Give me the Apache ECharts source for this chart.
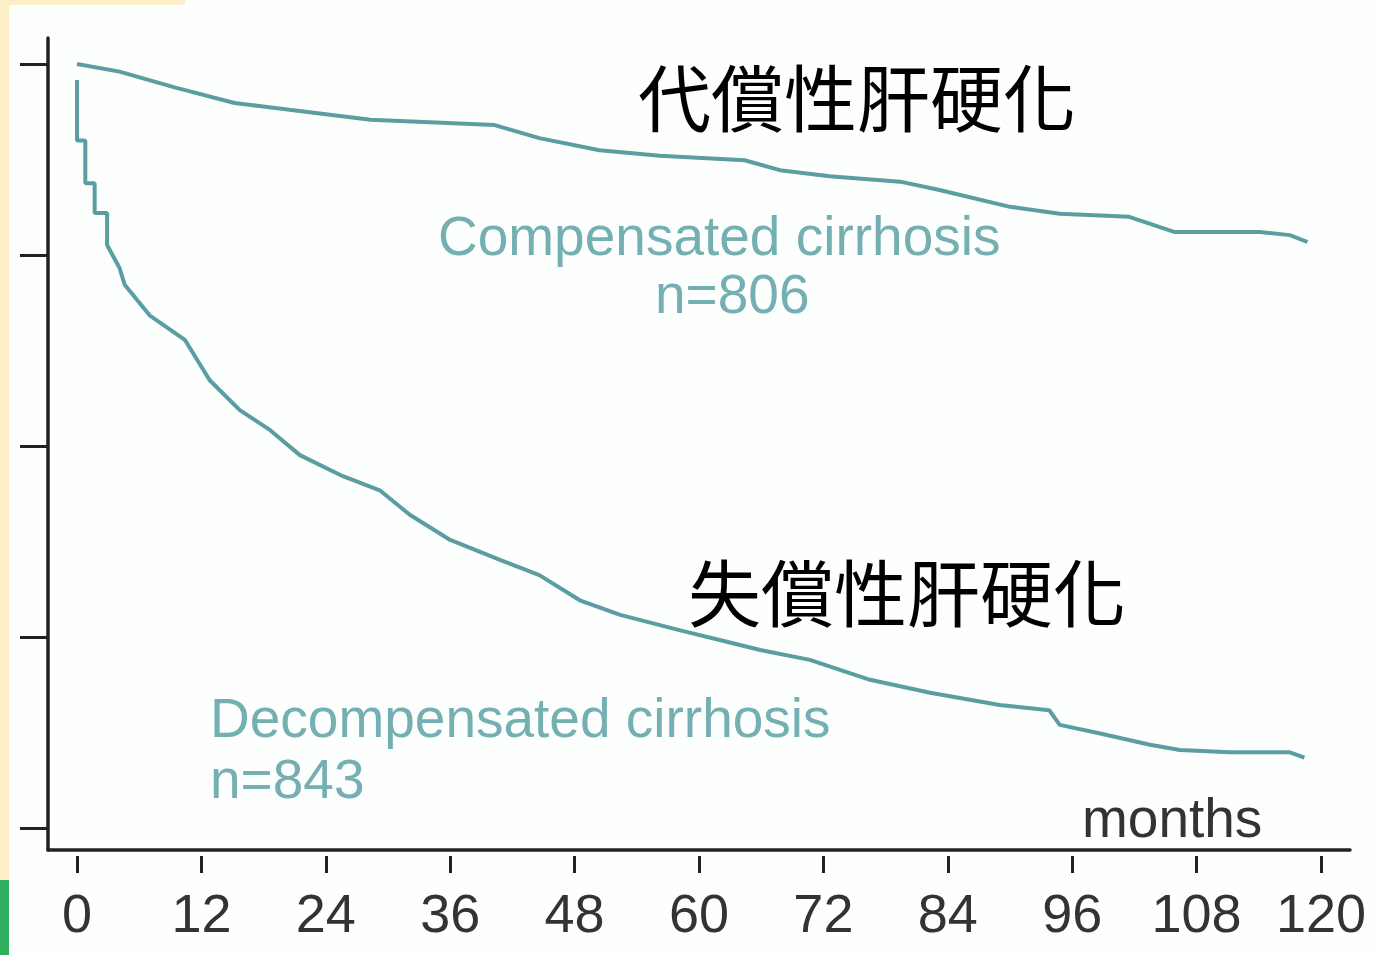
<!DOCTYPE html>
<html>
<head>
<meta charset="utf-8">
<title>Survival: compensated vs decompensated cirrhosis</title>
<script src="https://cdn.jsdelivr.net/npm/echarts@6/dist/echarts.min.js"></script>
<style>
  html, body { margin: 0; padding: 0; background: #fff; }
  #chart { width: 1373px; height: 955px; }
</style>
</head>
<body>
<div id="chart"></div>
<script>
// x axis ticks (months) and y ticks (survival proportion, unlabeled)
const monthTicks = [0, 12, 24, 36, 48, 60, 72, 84, 96, 108, 120];
const survivalTicks = [0, 0.25, 0.5, 0.75, 1];

// compensated cirrhosis, n=806
const compMonths = [0, 4.1, 9.5, 15.2, 20.5, 28.3, 40.3, 44.6, 50.4, 56.2, 64.4, 67.8, 72.6, 79.4, 83.2, 90.0, 94.8, 101.5, 105.9, 114.1, 117.0, 118.7];
const compSurv   = [1.0, 0.990, 0.969, 0.949, 0.940, 0.927, 0.920, 0.903, 0.887, 0.880, 0.874, 0.861, 0.853, 0.846, 0.835, 0.813, 0.804, 0.800, 0.780, 0.780, 0.776, 0.767];

// decompensated cirrhosis, n=843
const decompMonths = [0, 0, 0.8, 0.8, 1.7, 1.7, 2.9, 2.9, 4.1, 4.6, 7.0, 10.4, 12.8, 15.7, 18.6, 21.5, 25.4, 29.2, 32.1, 36.0, 40.8, 44.6, 48.5, 52.4, 58.1, 62.0, 65.9, 70.7, 76.5, 82.3, 89.0, 93.8, 94.8, 98.6, 103.5, 106.4, 111.2, 117.0, 118.4];
const decompSurv   = [0.979, 0.900, 0.900, 0.844, 0.844, 0.805, 0.805, 0.763, 0.733, 0.711, 0.671, 0.639, 0.586, 0.547, 0.521, 0.488, 0.462, 0.442, 0.410, 0.377, 0.351, 0.331, 0.298, 0.279, 0.259, 0.246, 0.233, 0.220, 0.194, 0.177, 0.161, 0.154, 0.135, 0.124, 0.109, 0.102, 0.099, 0.099, 0.092];

const lineColor = '#5a9ea1';
const labelColor = '#74afb1';

const zip = (xs, ys) => xs.map((x, i) => [x, ys[i]]);

const chart = echarts.init(document.getElementById('chart'));

chart.setOption({
  backgroundColor: '#fdfefe',
  animation: false,
  grid: { left: 48, right: 23, top: 38, bottom: 105 },
  xAxis: [
    {
      type: 'value', min: -2.8, max: 122.8, position: 'bottom',
      axisLine: { show: true, onZero: false, lineStyle: { color: '#222', width: 3.5 } },
      axisTick: { show: false }, axisLabel: { show: false }, splitLine: { show: false }
    },
    {
      type: 'value', min: -2.8, max: 122.8, position: 'bottom', offset: 6,
      axisLine: { show: false, onZero: false },
      axisTick: { show: true, length: 17, customValues: monthTicks, lineStyle: { color: '#222', width: 3 } },
      axisLabel: {
        show: true, customValues: monthTicks, margin: 34,
        color: '#333', fontSize: 54, fontFamily: 'Liberation Sans, Arial, sans-serif'
      },
      splitLine: { show: false }
    }
  ],
  yAxis: {
    type: 'value', min: -0.0288, max: 1.034,
    axisLine: { show: true, onZero: false, lineStyle: { color: '#222', width: 3.5 } },
    axisTick: { show: true, length: 28, customValues: survivalTicks, lineStyle: { color: '#222', width: 3 } },
    axisLabel: { show: false },
    splitLine: { show: false }
  },
  series: [
    {
      name: 'Compensated cirrhosis', type: 'line', xAxisIndex: 0,
      data: zip(compMonths, compSurv), showSymbol: false,
      lineStyle: { color: lineColor, width: 4 }
    },
    {
      name: 'Decompensated cirrhosis', type: 'line', xAxisIndex: 0,
      data: zip(decompMonths, decompSurv), showSymbol: false,
      lineStyle: { color: lineColor, width: 4 }
    }
  ],
  graphic: [
    // slide border remnants
    { type: 'rect', shape: { x: 0, y: 0, width: 9, height: 880 }, style: { fill: '#fcefc8' }, silent: true },
    { type: 'rect', shape: { x: 0, y: 0, width: 185, height: 5 }, style: { fill: '#fcefc8' }, silent: true },
    { type: 'rect', shape: { x: 0, y: 880, width: 9, height: 75 }, style: { fill: '#2fae5e' }, silent: true },
    // chinese headings
    { type: 'text', x: 638, y: 98, style: { text: '代償性肝硬化', fill: '#000', font: '73px "Noto Sans CJK TC"', textVerticalAlign: 'middle' } },
    { type: 'text', x: 688, y: 593, style: { text: '失償性肝硬化', fill: '#000', font: '73px "Noto Sans CJK TC"', textVerticalAlign: 'middle' } },
    // curve labels
    { type: 'text', x: 438, y: 240, style: { text: 'Compensated cirrhosis', fill: labelColor, font: '55px "Liberation Sans", Arial, sans-serif', textVerticalAlign: 'middle' } },
    { type: 'text', x: 655, y: 298, style: { text: 'n=806', fill: labelColor, font: '55px "Liberation Sans", Arial, sans-serif', textVerticalAlign: 'middle' } },
    { type: 'text', x: 210, y: 722, style: { text: 'Decompensated cirrhosis', fill: labelColor, font: '55px "Liberation Sans", Arial, sans-serif', textVerticalAlign: 'middle' } },
    { type: 'text', x: 210, y: 783, style: { text: 'n=843', fill: labelColor, font: '55px "Liberation Sans", Arial, sans-serif', textVerticalAlign: 'middle' } },
    { type: 'text', x: 1082, y: 822, style: { text: 'months', fill: '#333', font: '55px "Liberation Sans", Arial, sans-serif', textVerticalAlign: 'middle' } }
  ]
});
</script>
</body>
</html>
